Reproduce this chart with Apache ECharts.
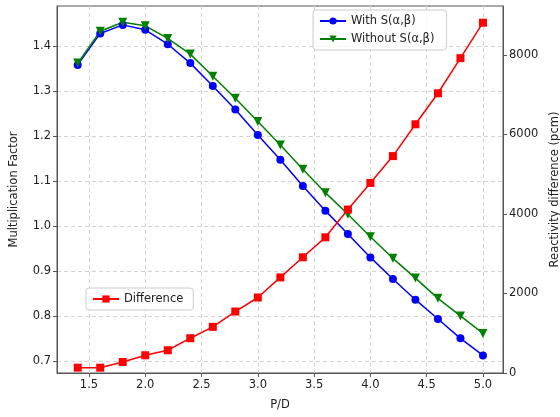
<!DOCTYPE html>
<html>
<head>
<meta charset="utf-8">
<script src="https://cdn.jsdelivr.net/npm/echarts@6/dist/echarts.min.js"></script>
<style>
  html, body { margin: 0; padding: 0; background: #fff; }
  #chart { width: 560px; height: 417px; }
</style>
</head>
<body>
<div id="chart"></div>
<script>
// pitch-to-diameter ratios
var pd = [1.4, 1.6, 1.8, 2.0, 2.2, 2.4, 2.6, 2.8, 3.0, 3.2, 3.4, 3.6, 3.8, 4.0, 4.2, 4.4, 4.6, 4.8, 5.0];
var withSab = [1.358, 1.428, 1.447, 1.436, 1.404, 1.362, 1.311, 1.259, 1.202, 1.147, 1.089,
  1.034, 0.982, 0.930, 0.882, 0.836, 0.793, 0.750, 0.712];
var withoutSab = [1.362, 1.433, 1.453, 1.445, 1.417, 1.382, 1.333, 1.284, 1.232, 1.180, 1.126,
  1.074, 1.026, 0.976, 0.928, 0.884, 0.839, 0.800, 0.761];
var difference = [134, 134, 277, 446, 572, 875, 1160, 1546, 1899, 2404, 2910,
  3412, 4111, 4780, 5455, 6255, 7036, 7919, 8810];

var xTicks = [1.5, 2.0, 2.5, 3.0, 3.5, 4.0, 4.5, 5.0];
var leftTicks = [0.7, 0.8, 0.9, 1.0, 1.1, 1.2, 1.3, 1.4];
var rightTicks = [0, 2000, 4000, 6000, 8000];

function pairs(ys) {
  return pd.map(function (x, i) { return [x, ys[i]]; });
}

var font = 'DejaVu Sans';
var frameColor = '#555';
var gridLine = {show: true, lineStyle: {color: '#d3d3d3', type: [4, 3], width: 1}};

var chart = echarts.init(document.getElementById('chart'));
chart.setOption({
  animation: false,
  backgroundColor: '#fff',
  textStyle: {fontFamily: font},
  grid: {left: 57, right: 57, top: 6, bottom: 44, outerBoundsMode: 'none', containLabel: false,
    show: true, borderColor: frameColor, borderWidth: 1},
  legend: [
    {
      data: ['With S(α,β)', 'Without S(α,β)'],
      orient: 'vertical', left: 313, top: 10,
      itemWidth: 26, itemHeight: 9, itemGap: 6,
      padding: [5, 12, 5, 6],
      backgroundColor: 'rgba(255,255,255,0.8)',
      borderColor: '#ccc', borderWidth: 1, borderRadius: 3,
      textStyle: {fontFamily: font, fontSize: 11.5, color: '#222'}
    },
    {
      data: ['Difference'],
      orient: 'vertical', left: 86, top: 288,
      itemWidth: 26, itemHeight: 9,
      padding: [5, 10, 5, 6],
      backgroundColor: 'rgba(255,255,255,0.8)',
      borderColor: '#ccc', borderWidth: 1, borderRadius: 3,
      textStyle: {fontFamily: font, fontSize: 11.5, color: '#222'}
    }
  ],
  xAxis: {
    type: 'value', min: 1.216, max: 5.178,
    name: 'P/D', nameLocation: 'middle', nameGap: 26,
    nameTextStyle: {fontFamily: font, fontSize: 11.5, color: '#222'},
    axisLine: {show: true, lineStyle: {color: frameColor}},
    axisTick: {show: true, length: 4, customValues: xTicks, lineStyle: {color: frameColor}},
    axisLabel: {customValues: xTicks, fontFamily: font, fontSize: 11.5, color: '#222', margin: 6,
      formatter: function (v) { return v.toFixed(1); }},
    splitLine: gridLine
  },
  yAxis: [
    {
      type: 'value', min: 0.673, max: 1.489, position: 'left',
      name: 'Multiplication Factor', nameLocation: 'middle', nameGap: 37,
      nameTextStyle: {fontFamily: font, fontSize: 11.5, color: '#222'},
      axisLine: {show: true, lineStyle: {color: frameColor}},
      axisTick: {show: true, length: 4, customValues: leftTicks, lineStyle: {color: frameColor}},
      axisLabel: {customValues: leftTicks, fontFamily: font, fontSize: 11.5, color: '#222', margin: 6,
        formatter: function (v) { return v.toFixed(1); }},
      splitLine: gridLine
    },
    {
      type: 'value', min: 0, max: 9230, position: 'right',
      name: 'Reactivity difference (pcm)', nameLocation: 'middle', nameGap: 45,
      nameTextStyle: {fontFamily: font, fontSize: 11.5, color: '#222'},
      axisLine: {show: true, lineStyle: {color: frameColor}},
      axisTick: {show: true, length: 4, customValues: rightTicks, lineStyle: {color: frameColor}},
      axisLabel: {customValues: rightTicks, fontFamily: font, fontSize: 11.5, color: '#222', margin: 6,
        formatter: function (v) { return String(Math.round(v)); }},
      splitLine: {show: false}
    }
  ],
  series: [
    {
      name: 'With S(α,β)', type: 'line', yAxisIndex: 0,
      data: pairs(withSab),
      symbol: 'circle', symbolSize: 8,
      itemStyle: {color: '#0000ff'},
      lineStyle: {color: '#0000ff', width: 1.5}
    },
    {
      name: 'Without S(α,β)', type: 'line', yAxisIndex: 0,
      data: pairs(withoutSab),
      symbol: 'triangle', symbolSize: 9, symbolRotate: 180,
      itemStyle: {color: '#008000'},
      lineStyle: {color: '#008000', width: 1.5}
    },
    {
      name: 'Difference', type: 'line', yAxisIndex: 1,
      data: pairs(difference),
      symbol: 'rect', symbolSize: 8,
      itemStyle: {color: '#ff0000'},
      lineStyle: {color: '#ff0000', width: 1.5}
    }
  ]
});
</script>
</body>
</html>
